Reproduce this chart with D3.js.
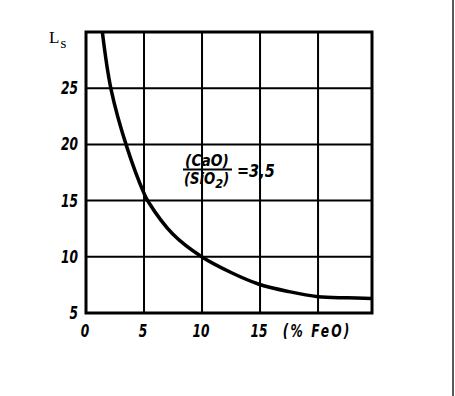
<!DOCTYPE html>
<html>
<head>
<meta charset="utf-8">
<script src="https://cdn.jsdelivr.net/npm/d3@7"></script>
<style>
  body { margin: 0; background: #fff; }
  svg { display: block; }
</style>
</head>
<body>
<div id="chart"></div>
<script>
// FeO content (%) vs sulphur distribution Ls, at CaO/SiO2 = 3,5
const feo = [1.41, 2.16, 3.51, 5.0, 5.37, 7.5, 9.97, 12.5, 14.85, 17.5, 20.0, 22.5, 24.6];
const ls  = [30.0, 24.9, 19.8, 15.65, 14.9, 12.0, 10.0, 8.6, 7.58, 6.9, 6.45, 6.35, 6.3];

const xTicks = [0, 5, 10, 15, 20];
const xTickLabels = ["0", "5", "10", "15", "(% FeO)"];
const yTicks = [5, 10, 15, 20, 25];
const yTickLabels = ["5", "10", "15", "20", "25"];

const width = 455;
const height = 396;

const svg = d3.select("#chart")
    .append("svg")
    .attr("width", width)
    .attr("height", height);

const x = d3.scaleLinear()
    .domain([0, 24.65])
    .range([86, 372]);

const y = d3.scaleLinear()
    .domain([5, 30])
    .range([313, 32]);

const tickFont = "'DejaVu Sans', sans-serif";

// grid
svg.append("g")
    .selectAll("line")
    .data(xTicks.slice(1))
    .join("line")
    .attr("x1", d => x(d))
    .attr("x2", d => x(d))
    .attr("y1", y(30))
    .attr("y2", y(5))
    .attr("stroke", "#000")
    .attr("stroke-width", 2);

svg.append("g")
    .selectAll("line")
    .data(yTicks.slice(1))
    .join("line")
    .attr("x1", x(0))
    .attr("x2", x(24.65))
    .attr("y1", d => y(d))
    .attr("y2", d => y(d))
    .attr("stroke", "#000")
    .attr("stroke-width", 2);

// frame
svg.append("rect")
    .attr("x", x(0))
    .attr("y", y(30))
    .attr("width", x(24.65) - x(0))
    .attr("height", y(5) - y(30))
    .attr("fill", "none")
    .attr("stroke", "#000")
    .attr("stroke-width", 3);

// curve
svg.append("clipPath")
    .attr("id", "plot-clip")
    .append("rect")
    .attr("x", x(0))
    .attr("y", y(30))
    .attr("width", x(24.65) - x(0))
    .attr("height", y(5) - y(30));

const line = d3.line()
    .x((d, i) => x(feo[i]))
    .y(d => y(d))
    .curve(d3.curveCatmullRom.alpha(0.5));

svg.append("path")
    .datum(ls)
    .attr("clip-path", "url(#plot-clip)")
    .attr("d", line)
    .attr("fill", "none")
    .attr("stroke", "#000")
    .attr("stroke-width", 3.5);

// axes (labels only)
const yAxis = svg.append("g")
    .attr("transform", `translate(${x(0)},0)`)
    .call(d3.axisLeft(y).tickValues(yTicks)
        .tickFormat((d, i) => yTickLabels[i])
        .tickSize(0).tickPadding(0));

const xAxis = svg.append("g")
    .attr("transform", `translate(0,${y(5)})`)
    .call(d3.axisBottom(x).tickValues(xTicks)
        .tickFormat((d, i) => xTickLabels[i])
        .tickSize(0).tickPadding(12));

[yAxis, xAxis].forEach(g => {
    g.select(".domain").remove();
    g.selectAll("text")
        .attr("fill", "#000")
        .style("font-family", tickFont)
        .style("font-size", "17px")
        .style("font-weight", "bold")
        .style("font-style", "italic");
});
// condensed look of the printed digits
yAxis.selectAll("text").attr("x", -11).attr("transform", "scale(0.72,1)");
xAxis.selectAll("text").attr("x", -2).attr("transform", "scale(0.72,1)");
xAxis.selectAll("text").filter((d, i) => i === 4).style("letter-spacing", "3px");

// y title Ls
const ylab = svg.append("text")
    .attr("x", 49)
    .attr("y", 43)
    .style("font-family", "'Liberation Serif', serif")
    .style("font-size", "17px");
ylab.append("tspan").text("L");
ylab.append("tspan").attr("dx", 1).attr("dy", 5).style("font-size", "15px").text("s");

// annotation (CaO)/(SiO2) = 3,5
const noteStyle = t => t
    .style("font-family", tickFont)
    .style("font-size", "15px")
    .style("font-weight", "bold")
    .style("font-style", "italic");

const ann = svg.append("g");
ann.append("text")
    .attr("transform", "translate(207,165.5) scale(0.92,1)")
    .attr("text-anchor", "middle")
    .call(noteStyle)
    .text("(CaO)");
ann.append("line")
    .attr("x1", 183).attr("x2", 232)
    .attr("y1", 169.5).attr("y2", 169.5)
    .attr("stroke", "#000")
    .attr("stroke-width", 2);
const den = ann.append("text")
    .attr("transform", "translate(184,184) scale(0.88,1)")
    .call(noteStyle);
den.append("tspan").text("(SiO");
den.append("tspan").attr("dy", 4).style("font-size", "13px").text("2");
den.append("tspan").attr("dy", -4).text(")");
ann.append("text")
    .attr("transform", "translate(237,176.5) scale(0.85,1)")
    .call(noteStyle)
    .style("font-size", "17px")
    .text("=3,5");

// scan edge line on the right
svg.append("line")
    .attr("x1", 453).attr("x2", 453)
    .attr("y1", 0).attr("y2", height)
    .attr("stroke", "#222")
    .attr("stroke-width", 1.5);
</script>
</body>
</html>
